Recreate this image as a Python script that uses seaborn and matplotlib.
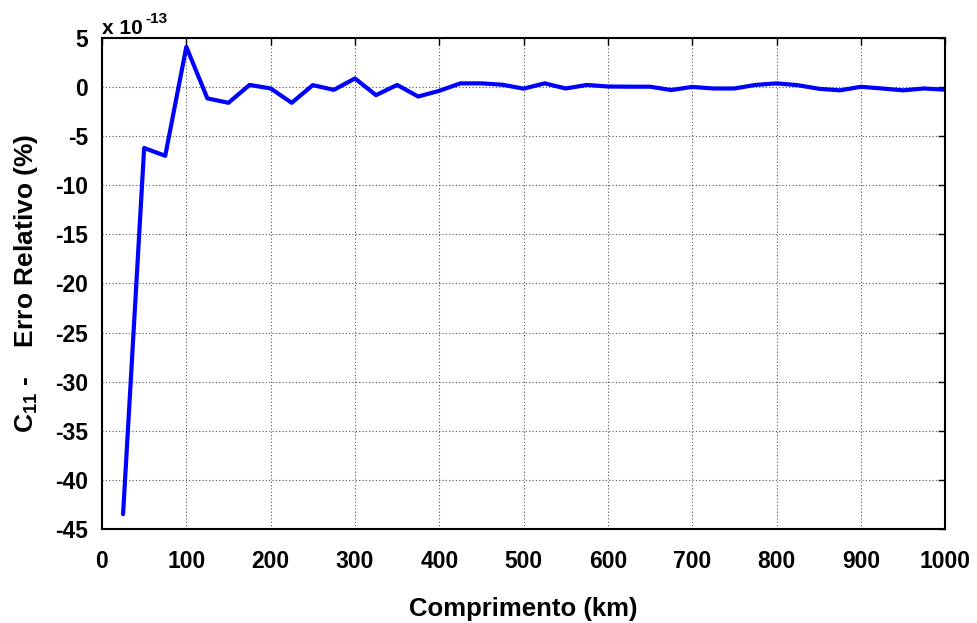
import matplotlib
matplotlib.use("Agg")
import matplotlib.pyplot as plt
import seaborn as sns
import pandas as pd
import numpy as np

comprimento = [25, 50, 75, 100, 125, 150, 175, 200, 225, 250, 275, 300, 325, 350, 375,
               400, 425, 450, 475, 500, 525, 550, 575, 600, 625, 650, 675, 700, 725, 750,
               775, 800, 825, 850, 875, 900, 925, 950, 975, 1000]
erro = [-43.5, -6.2, -7.0, 4.1, -1.15, -1.6, 0.22, -0.14, -1.6, 0.2, -0.28, 0.88, -0.82, 0.22, -0.96,
        -0.38, 0.38, 0.38, 0.24, -0.16, 0.38, -0.14, 0.22, 0.06, 0.04, 0.04, -0.3, 0.02, -0.14, -0.14,
        0.22, 0.38, 0.2, -0.17, -0.33, 0.03, -0.14, -0.33, -0.14, -0.27]
xticks = [0, 100, 200, 300, 400, 500, 600, 700, 800, 900, 1000]
yticks = [5, 0, -5, -10, -15, -20, -25, -30, -35, -40, -45]

sns.set_style("white")
plt.rcParams['font.family'] = ['Liberation Sans', 'DejaVu Sans']
plt.rcParams['font.weight'] = 'bold'
plt.rcParams['mathtext.fontset'] = 'custom'
plt.rcParams['mathtext.rm'] = 'Liberation Sans:bold'
plt.rcParams['mathtext.it'] = 'Liberation Sans:bold'
plt.rcParams['mathtext.bf'] = 'Liberation Sans:bold'
plt.rcParams['text.color'] = 'black'
plt.rcParams['axes.labelcolor'] = 'black'
plt.rcParams['xtick.color'] = 'black'
plt.rcParams['ytick.color'] = 'black'

df = pd.DataFrame({"Comprimento": comprimento, "Erro": erro})

fig = plt.figure(figsize=(9.77, 6.23), dpi=100)
ax = fig.add_axes([0.1044, 0.151, 0.863, 0.788])
sns.lineplot(data=df, x="Comprimento", y="Erro", ax=ax, color=(0, 0, 1), linewidth=3.0)

ax.set_xlim(0, 1000)
ax.set_ylim(-45, 5)
ax.set_xticks(xticks)
ax.set_yticks(yticks)
ax.set_xticklabels([str(t) for t in xticks], fontsize=16.5, fontweight='bold', color='black')
ax.set_yticklabels([str(t) for t in yticks], fontsize=16.5, fontweight='bold', color='black')
ax.tick_params(direction='in', length=5, width=1, top=True, right=True, colors='black')
ax.tick_params(axis='x', pad=15)
ax.tick_params(axis='y', pad=10)
ax.grid(True, linestyle=(0, (1, 2)), color='#555555', linewidth=0.8)
for s in ax.spines.values():
    s.set_linewidth(1.5)
    s.set_color('black')

ax.set_xlabel("Comprimento (km)", fontsize=18.5, fontweight='bold', color='black')
ax.xaxis.set_label_coords(0.5, -0.138)
ax.set_ylabel(r"C$_{11}$ -    Erro Relativo (%)", fontsize=19, fontweight='bold', color='black')
ax.yaxis.set_label_coords(-0.074, 0.5)
ax.text(0.0, 1.0, "x 10", transform=ax.transAxes, fontsize=15,
        fontweight='bold', ha='left', va='bottom', color='black')
ax.annotate("-13", xy=(0.0, 1.0), xycoords='axes fraction', xytext=(31, 9),
            textcoords='offset points', fontsize=11, fontweight='bold',
            ha='left', va='bottom', color='black')

fig.savefig("out.png", dpi=100)
